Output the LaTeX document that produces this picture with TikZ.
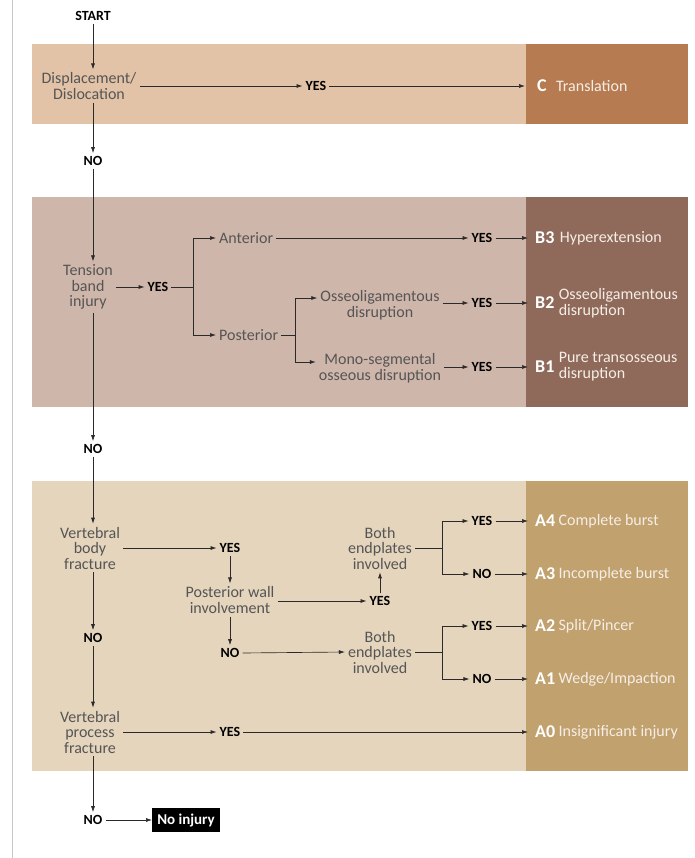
\documentclass[tikz,border=0pt]{standalone}
\usepackage{fontspec}
\setmainfont{Carlito}
\usetikzlibrary{arrows.meta,positioning}
\definecolor{txtgray}{HTML}{555555}
\definecolor{cLight}{HTML}{E2C3A7}
\definecolor{cDark}{HTML}{B67B50}
\definecolor{bLight}{HTML}{CFB6AA}
\definecolor{bDark}{HTML}{8F6A5B}
\definecolor{aLight}{HTML}{E5D5BD}
\definecolor{aDark}{HTML}{C1A16E}
\definecolor{lineC}{HTML}{2A2A2A}
\definecolor{clsText}{HTML}{F6EEE6}
\tikzset{
  lbl/.style={text=txtgray, font=\fontsize{16}{15.5}\selectfont, align=center, inner sep=3pt},
  yn/.style={text=black, font=\bfseries\fontsize{14}{14}\selectfont, inner sep=3pt},
  cls/.style={text=clsText, anchor=west, font=\fontsize{16}{16}\selectfont, inner sep=1pt, align=left},
  clscode/.style={text=white, anchor=west, font=\bfseries\fontsize{18}{18}\selectfont, inner sep=1pt},
  arr/.style={draw=lineC, line width=0.65pt, -{Latex[length=6pt,width=4pt]}},
  ln/.style={draw=lineC, line width=0.65pt},
}
\begin{document}
\begin{tikzpicture}[x=1pt,y=-1pt]
\useasboundingbox (0,0) rectangle (694,858);
% left rule
\draw[gray!45, line width=1.2pt] (12.5,0) -- (12.5,858);
% bands
\fill[cLight] (32,44) rectangle (526,124);
\fill[cDark] (526,44) rectangle (688,124);
\fill[bLight] (32,197) rectangle (526,407);
\fill[bDark] (526,197) rectangle (688,407);
\fill[aLight] (32,481) rectangle (526,771);
\fill[aDark] (526,481) rectangle (688,771);

% ---- C band
\node[yn] (start) at (93,16) {START};
\node[lbl] (disp) at (89,86) {Displacement/\\Dislocation};
\node[yn] (yesC) at (316,86) {YES};
\node[clscode] (cC) at (536,86) {C};
\node[cls, right=7pt of cC] (clsC) {Translation};
\draw[arr] (start) -- (start |- disp.north);
\draw[arr] (disp.east) -- (yesC.west);
\draw[arr] (yesC.east) -- ([xshift=-11pt]cC.west);
\node[yn] (noC) at (93,161) {NO};
\draw[arr] (noC |- disp.south) -- (noC);

% ---- B band
\node[lbl] (tens) at (88,287) {Tension\\band\\injury};
\node[yn] (yesT) at (158,287) {YES};
\node[lbl, anchor=west] (ant) at (216,238) {Anterior};
\node[lbl, anchor=west] (post) at (216,335) {Posterior};
\node[lbl] (osseo) at (380,305) {Osseoligamentous\\disruption};
\node[lbl] (mono) at (380,368) {Mono-segmental\\osseous disruption};
\node[yn] (yesB3) at (482,238) {YES};
\node[yn] (yesB2) at (482,303) {YES};
\node[yn] (yesB1) at (482,367) {YES};
\node[clscode] (cB3) at (534,238) {B3};
\node[cls, right=3pt of cB3] (clsB3) {Hyperextension};
\node[clscode] (cB2) at (534,303) {B2};
\node[cls, right=2pt of cB2] (clsB2) {Osseoligamentous\\disruption};
\node[clscode] (cB1) at (534,367) {B1};
\node[cls, right=2pt of cB1] (clsB1) {Pure transosseous\\disruption};
\node[yn] (noT) at (93,449) {NO};
\coordinate (brT) at (193,287);
\coordinate (brP) at (295,335);
\draw[arr] (noC) -- (noC |- tens.north);
\draw[arr] (tens.east) -- (yesT.west);
\draw[ln] (yesT.east) -- (brT);
\draw[arr] (brT) |- (ant.west);
\draw[arr] (brT) |- (post.west);
\draw[ln] (post.east) -- (brP);
\draw[arr] (brP) |- (osseo.west |- 0,298);
\draw[arr] (brP) |- (mono.west |- 0,362);
\draw[arr] (ant.east) -- (yesB3.west);
\draw[arr] (osseo.east |- yesB2) -- (yesB2.west);
\draw[arr] (mono.east |- yesB1) -- (yesB1.west);
\draw[arr] (yesB3.east) -- ([xshift=-6pt]cB3.west);
\draw[arr] (yesB2.east) -- ([xshift=-6pt]cB2.west);
\draw[arr] (yesB1.east) -- ([xshift=-6pt]cB1.west);
\draw[arr] (noT |- tens.south) -- (noT);

% ---- A band
\node[lbl] (vbf) at (90,548) {Vertebral\\body\\fracture};
\node[yn] (yesV) at (230,548) {YES};
\node[lbl] (pw) at (230,600) {Posterior wall\\involvement};
\node[yn] (yesPW) at (380,601) {YES};
\node[lbl] (be1) at (380,548) {Both\\endplates\\involved};
\node[yn] (yesA4) at (482,521) {YES};
\node[yn] (noA3) at (482,574) {NO};
\node[yn] (noPW) at (230,653) {NO};
\node[lbl] (be2) at (380,652) {Both\\endplates\\involved};
\node[yn] (yesA2) at (482,626) {YES};
\node[yn] (noA1) at (482,679) {NO};
\node[yn] (noV) at (93,638) {NO};
\node[lbl] (vpf) at (90,732) {Vertebral\\process\\fracture};
\node[yn] (yesP) at (230,732) {YES};
\node[clscode] (cA4) at (534,521) {A4};
\node[cls, right=1pt of cA4] (clsA4) {Complete burst};
\node[clscode] (cA3) at (534,574) {A3};
\node[cls, right=1pt of cA3] (clsA3) {Incomplete burst};
\node[clscode] (cA2) at (534,626) {A2};
\node[cls, right=1pt of cA2] (clsA2) {Split/Pincer};
\node[clscode] (cA1) at (534,679) {A1};
\node[cls, right=1pt of cA1] (clsA1) {Wedge/Impaction};
\node[clscode] (cA0) at (534,732) {A0};
\node[cls, right=1pt of cA0] (clsA0) {Insignificant injury};
\node[yn] (noP) at (93,820) {NO};
\node[fill=black, text=white, font=\bfseries\fontsize{15}{15}\selectfont, inner xsep=5pt, minimum height=24pt] (noinj) at (186,820) {No injury};
\coordinate (br1) at (442,548);
\coordinate (br2) at (442,652);
\draw[arr] (noT) -- (noT |- vbf.north);
\draw[arr] (vbf.east) -- (yesV.west);
\draw[arr] (yesV) -- (pw);
\draw[arr] (pw.east |- yesPW) -- (yesPW.west);
\draw[arr] (yesPW) -- (be1);
\draw[ln] (be1.east) -- (br1);
\draw[arr] (br1) |- (yesA4.west);
\draw[arr] (br1) |- (noA3.west);
\draw[arr] (pw) -- (noPW);
\draw[arr] (noPW.east) -- (be2.west);
\draw[ln] (be2.east) -- (br2);
\draw[arr] (br2) |- (yesA2.west);
\draw[arr] (br2) |- (noA1.west);
\draw[arr] (yesA4.east) -- ([xshift=-6pt]cA4.west);
\draw[arr] (noA3.east) -- ([xshift=-6pt]cA3.west);
\draw[arr] (yesA2.east) -- ([xshift=-6pt]cA2.west);
\draw[arr] (noA1.east) -- ([xshift=-6pt]cA1.west);
\draw[arr] (noV |- vbf.south) -- (noV);
\draw[arr] (noV) -- (noV |- vpf.north);
\draw[arr] (vpf.east) -- (yesP.west);
\draw[arr] (yesP.east) -- ([xshift=-6pt]cA0.west);
\draw[arr] (noP |- vpf.south) -- (noP);
\draw[arr] (noP.east) -- (noinj.west);
\end{tikzpicture}
\end{document}
